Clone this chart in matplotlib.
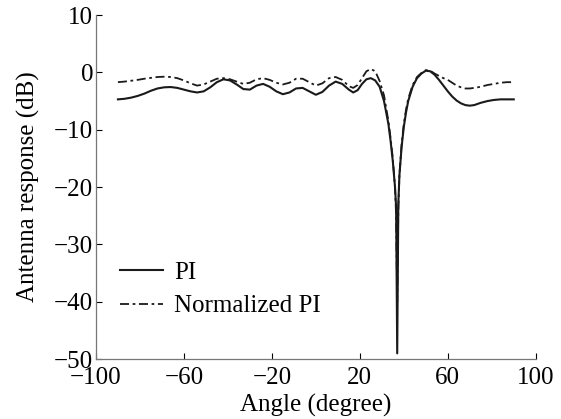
import numpy as np
import matplotlib
matplotlib.use("Agg")
import matplotlib.pyplot as plt

# angle grid (degree) and responses (dB)
angle = [-90, -87, -84, -81, -78, -75, -72, -69, -66, -63, -60, -57, -54, -51,
         -48, -45, -42, -39, -36, -33, -30, -27, -24, -21, -18, -15, -12, -9,
         -6, -3, 0, 3, 6, 9, 12, 15, 17, 19, 21, 23, 25, 27, 29, 31, 33, 34,
         35, 36, 36.5, 37, 37.5, 38, 39, 40, 41, 42, 44, 46, 48, 50, 52, 54,
         56, 58, 60, 62, 64, 66, 68, 70, 72, 75, 78, 81, 84, 87, 90]

pi_resp = [-4.7, -4.6, -4.4, -4.1, -3.7, -3.2, -2.8, -2.6, -2.55, -2.7, -3.0,
           -3.3, -3.5, -3.3, -2.6, -1.7, -1.2, -1.4, -2.1, -2.9, -3.0, -2.3,
           -2.0, -2.5, -3.3, -3.8, -3.5, -2.8, -2.7, -3.3, -3.9, -3.4, -2.3,
           -1.6, -2.0, -3.0, -3.5, -3.1, -2.0, -1.2, -1.0, -1.4, -2.5, -5.0,
           -9.0, -12.0, -15.5, -20.0, -23.5, -49.0, -23.0, -18.0, -13.0, -9.5,
           -7.0, -5.0, -2.5, -1.0, -0.2, 0.3, 0.2, -0.4, -1.3, -2.3, -3.3,
           -4.2, -4.9, -5.4, -5.7, -5.8, -5.7, -5.3, -5.0, -4.8, -4.7, -4.7,
           -4.7]

norm_pi_resp = [-1.7, -1.6, -1.45, -1.3, -1.1, -0.95, -0.8, -0.75, -0.8, -1.0,
                -1.4, -1.9, -2.3, -2.1, -1.6, -1.1, -1.0, -1.2, -1.6, -2.0,
                -1.8, -1.2, -1.0, -1.3, -1.8, -2.1, -1.8, -1.1, -1.1, -1.7,
                -2.3, -1.9, -1.0, -0.8, -1.3, -2.4, -2.7, -2.2, -1.0, 0.2, 0.6,
                0.2, -1.5, -4.0, -8.5, -11.5, -15.0, -20.0, -25.0, -40.0,
                -24.0, -18.0, -12.5, -9.0, -6.5, -4.6, -2.2, -0.8, -0.1, 0.4,
                0.3, -0.2, -0.6, -1.0, -1.3, -1.8, -2.3, -2.6, -2.8, -2.8,
                -2.7, -2.5, -2.2, -2.0, -1.8, -1.7, -1.7]

xticks = [-100, -60, -20, 20, 60, 100]
yticks = [-50, -40, -30, -20, -10, 0, 10]

plt.rcParams['font.family'] = ['Liberation Serif', 'DejaVu Serif']
plt.rcParams['font.size'] = 18

fig = plt.figure(figsize=(5.61, 4.19), dpi=100)
ax = fig.add_axes([0.171, 0.143, 0.784, 0.821])

ax.plot(angle, pi_resp, color='#1a1a1a', lw=1.5, label='PI')
ax.plot(angle, norm_pi_resp, color='#1a1a1a', lw=1.3,
        linestyle=(0, (5, 2, 1.5, 2)), label='Normalized PI')

ax.set_xlim(-100, 100)
ax.set_ylim(-50, 10)
ax.set_xticks(xticks)
ax.set_yticks(yticks)
ax.tick_params(direction='in', length=4, width=0.8, labelsize=18)
ax.tick_params(axis='x', pad=5.5)
ax.tick_params(axis='y', pad=2)
for s in ['top', 'right']:
    ax.spines[s].set_visible(False)
for s in ['left', 'bottom']:
    ax.spines[s].set_color('#777777')
    ax.spines[s].set_linewidth(0.9)

ax.set_xlabel('Angle (degree)', fontsize=18, labelpad=4)
ax.set_ylabel('Antenna response (dB)', fontsize=18, labelpad=10)

ax.legend(loc='upper left', bbox_to_anchor=(0.055, 0.285), frameon=False,
          handlelength=1.7, handletextpad=0.45, fontsize=18,
          borderaxespad=0, borderpad=0, labelspacing=0.45)

fig.savefig('out.png', dpi=100)
